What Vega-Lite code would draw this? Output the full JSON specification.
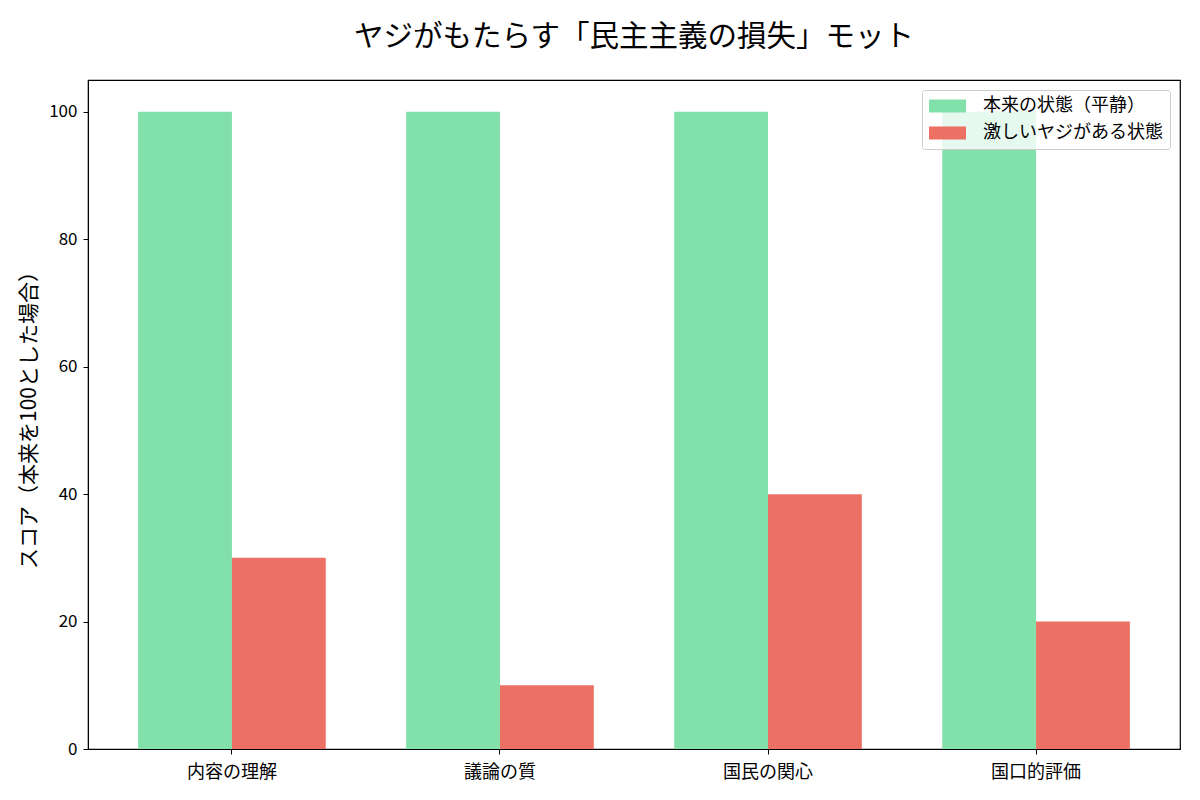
{
  "$schema": "https://vega.github.io/schema/vega-lite/v6.json",
  "width": 1092,
  "height": 669,
  "autosize": "none",
  "padding": {"left": 88, "top": 80, "right": 20, "bottom": 51},
  "background": "white",
  "title": {
    "text": "ヤジがもたらす「民主主義の損失」モット",
    "fontSize": 29.5,
    "fontWeight": "normal",
    "font": "Noto Sans CJK JP",
    "color": "black",
    "offset": 28
  },
  "data": {
    "values": [
      {"item": "内容の理解", "state": "本来の状態（平静）", "score": 100},
      {"item": "内容の理解", "state": "激しいヤジがある状態", "score": 30},
      {"item": "議論の質", "state": "本来の状態（平静）", "score": 100},
      {"item": "議論の質", "state": "激しいヤジがある状態", "score": 10},
      {"item": "国民の関心", "state": "本来の状態（平静）", "score": 100},
      {"item": "国民の関心", "state": "激しいヤジがある状態", "score": 40},
      {"item": "国口的評価", "state": "本来の状態（平静）", "score": 100},
      {"item": "国口的評価", "state": "激しいヤジがある状態", "score": 20}
    ]
  },
  "mark": {"type": "bar"},
  "encoding": {
    "x": {
      "field": "item",
      "type": "nominal",
      "sort": ["内容の理解", "議論の質", "国民の関心", "国口的評価"],
      "scale": {"paddingInner": 0.3, "paddingOuter": 0.187},
      "axis": {"title": null, "labelAngle": 0, "labelFontSize": 18, "labelPadding": 9}
    },
    "xOffset": {
      "field": "state",
      "type": "nominal",
      "sort": ["本来の状態（平静）", "激しいヤジがある状態"],
      "scale": {"paddingInner": 0, "paddingOuter": 0}
    },
    "y": {
      "field": "score",
      "type": "quantitative",
      "scale": {"domain": [0, 105], "nice": false},
      "axis": {"title": "スコア（本来を100とした場合）", "values": [0, 20, 40, 60, 80, 100], "grid": false}
    },
    "color": {
      "field": "state",
      "type": "nominal",
      "sort": ["本来の状態（平静）", "激しいヤジがある状態"],
      "scale": {"range": ["#82e0aa", "#ec7063"]},
      "legend": {
        "title": null,
        "orient": "top-right",
        "offset": 10,
        "fillColor": "rgba(255,255,255,0.8)",
        "strokeColor": "#cccccc",
        "cornerRadius": 3,
        "padding": 7,
        "rowPadding": 9,
        "clipHeight": 18,
        "symbolType": "M-1,-0.35L1,-0.35L1,0.35L-1,0.35Z",
        "symbolSize": 1369,
        "symbolStrokeWidth": 0,
        "symbolOpacity": 1,
        "labelFontSize": 18,
        "labelOffset": 17,
        "labelLimit": 400,
        "labelFont": "Noto Sans CJK JP",
        "labelColor": "black"
      }
    }
  },
  "config": {
    "view": {"stroke": "black", "strokeWidth": 1.2},
    "axis": {
      "domainColor": "black",
      "tickColor": "black",
      "tickSize": 5,
      "labelFont": "Noto Sans CJK JP",
      "labelFontSize": 17,
      "labelColor": "black",
      "labelPadding": 6,
      "titleFont": "Noto Sans CJK JP",
      "titleFontSize": 21,
      "titleFontWeight": "normal",
      "titleColor": "black",
      "titlePadding": 9
    }
  }
}
